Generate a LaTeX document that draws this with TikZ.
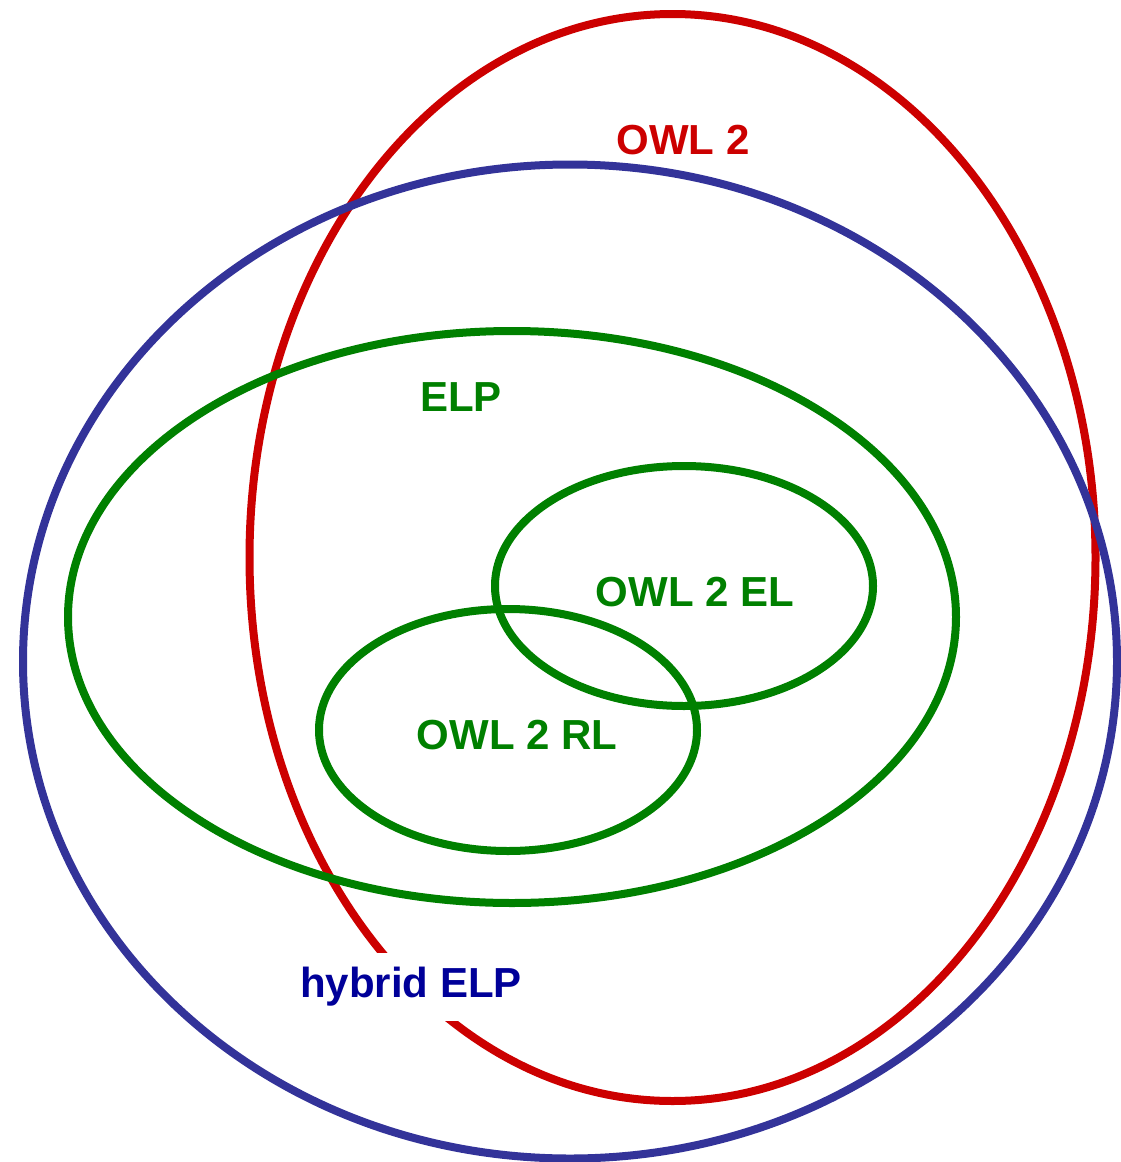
\documentclass[tikz,border=0pt]{standalone}
\usepackage{fontspec}
\setmainfont{Liberation Sans}
\definecolor{owlred}{RGB}{204,0,0}
\definecolor{hybblue}{RGB}{51,51,153}
\definecolor{hyblabel}{RGB}{0,0,153}
\definecolor{elpgreen}{RGB}{0,128,0}
\begin{document}
\begin{tikzpicture}[x=1pt,y=-1pt,
  ring/.style={line width=8pt},
  lbl/.style={font=\fontsize{42}{50}\selectfont\bfseries, inner sep=0pt}]
\useasboundingbox (0,0) rectangle (1120,1162);
% language sets
\draw[ring, owlred]   (672.5,557.5) ellipse [x radius=423pt, y radius=543.5pt];
\draw[ring, hybblue]  (570,661.5) ellipse [x radius=547pt, y radius=497pt];
\draw[ring, elpgreen] (512,617) ellipse [x radius=444pt, y radius=286pt];
\draw[ring, elpgreen] (684,586) ellipse [x radius=189pt, y radius=120pt];
\draw[ring, elpgreen] (508,730) ellipse [x radius=189pt, y radius=121pt];
% labels
\node[lbl, text=owlred]   (owl)    at (683,140) {OWL 2};
\node[lbl, text=elpgreen] (elp)    at (461,397) {ELP};
\node[lbl, text=elpgreen] (owlel)  at (695,592) {OWL 2 EL};
\node[lbl, text=elpgreen] (owlrl)  at (517,735) {OWL 2 RL};
\node[lbl, text=hyblabel, fill=white, inner xsep=8pt, inner ysep=14pt] (hybrid) at (411,987) {hybrid ELP};
\end{tikzpicture}
\end{document}
